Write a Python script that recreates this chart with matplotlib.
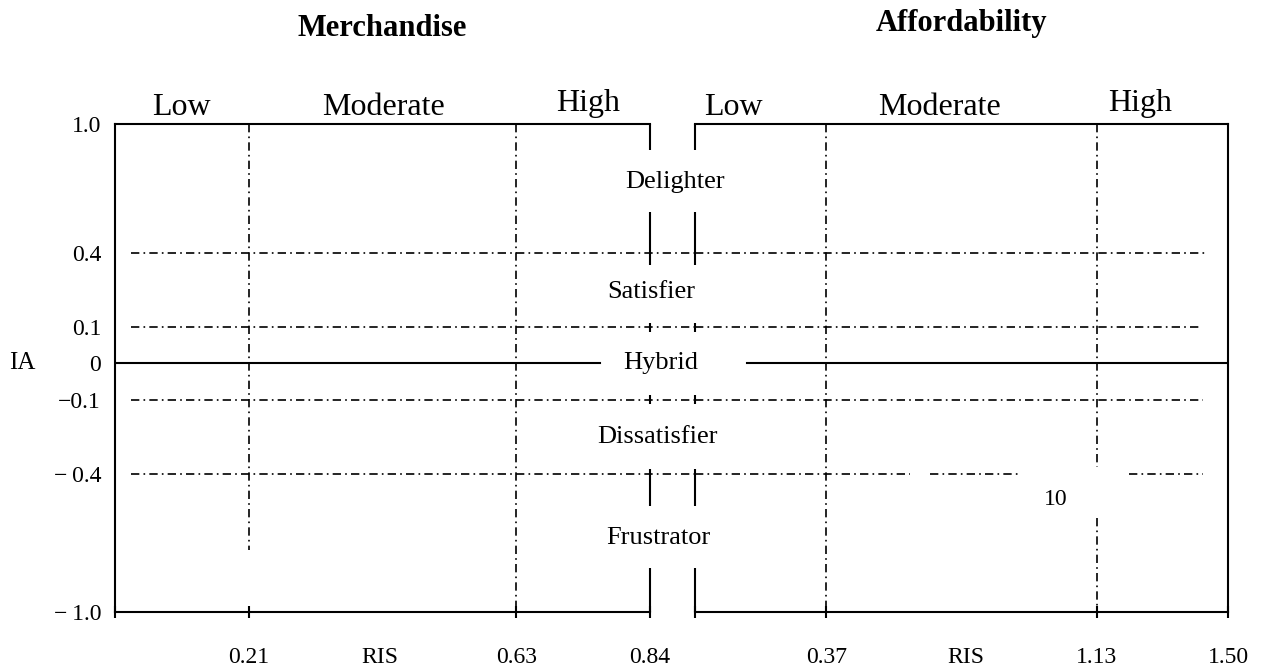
import numpy as np
import matplotlib
matplotlib.use("Agg")
import matplotlib.pyplot as plt
from matplotlib.transforms import blended_transform_factory as blend

plt.rcParams["font.family"] = ["Liberation Serif", "DejaVu Serif"]

# IA thresholds and where each one sits on the (schematic, non-linear) axis
IA_LEVELS = [-1.0, -0.4, -0.1, 0.0, 0.1, 0.4, 1.0]
IA_LABELS = ["\u2212\u20091.0", "\u2212\u20090.4", "\u22120.1", "0", "0.1", "0.4", "1.0"]
IA_ROW = [0.0, 0.283, 0.434, 0.510, 0.584, 0.736, 1.0]

ZONES = ["Delighter", "Satisfier", "Hybrid", "Dissatisfier", "Frustrator"]
ZONE_IA = [0.73, 0.24, 0.0, -0.25, -0.68]
ZONE_X = [0.534, 0.515, 0.523, 0.520, 0.521]  # figure fraction

LEVELS = ["Low", "Moderate", "High"]

# Merchandise panel (RIS)
MERCH_MAX = 0.84
MERCH_CUTS = [0.21, 0.63]
MERCH_TICKS = [0.0, 0.21, 0.63, 0.84]
MERCH_TICKLABELS = ["", "0.21", "0.63", "0.84"]
MERCH_LEVEL_X = [0.105, 0.421, 0.743]
MERCH_RIS_X = 0.416

# Affordability panel (RIS)
AFFORD_MAX = 1.50
AFFORD_CUTS = [0.37, 1.13]
AFFORD_TICKS = [0.0, 0.37, 1.13, 1.50]
AFFORD_TICKLABELS = ["", "0.37", "1.13", "1.50"]
AFFORD_LEVEL_X = [0.107, 0.687, 1.252]
AFFORD_RIS_X = 0.763

# broken divider between the panels (IA spans) and the gap in the zero line
DIVIDER_SEGS = [(1.0, 0.88), (0.59, 0.35), (-0.38, -0.54), (-0.81, -1.0)]
DIVIDER_NICKS = [(0.115, 0.085), (-0.085, -0.115)]
ZERO_LEFT = (0.0, 0.761)
ZERO_RIGHT = (0.146, 1.50)

DASHDOT = (0, (5, 2.5, 1, 2.5))
LW = 1.5
TICK_FS = 17


def fwd(v):
    return np.interp(v, IA_LEVELS, IA_ROW)


def inv(p):
    return np.interp(p, IA_ROW, IA_LEVELS)


fig = plt.figure(figsize=(12.64, 6.68), dpi=100)
ax_m = fig.add_axes([115 / 1264, 56 / 668, 535 / 1264, 488 / 668])
ax_a = fig.add_axes([695 / 1264, 56 / 668, 533 / 1264, 488 / 668])

for ax, xmax in ((ax_m, MERCH_MAX), (ax_a, AFFORD_MAX)):
    ax.set_yscale("function", functions=(fwd, inv))
    ax.set_ylim(-1.0, 1.0)
    ax.set_xlim(0, xmax)
    for s in ax.spines.values():
        s.set_linewidth(LW)
    ax.tick_params(axis="x", which="major", direction="inout", length=8,
                   width=LW, pad=21, labelsize=TICK_FS)
    ax.tick_params(axis="x", which="minor", length=0, pad=25, labelsize=TICK_FS)
    ax.yaxis.set_minor_locator(matplotlib.ticker.NullLocator())

ax_m.spines["right"].set_visible(False)
ax_a.spines["left"].set_visible(False)

# y axis labels only on the left
ax_m.set_yticks(IA_LEVELS, IA_LABELS)
ax_m.tick_params(axis="y", length=0, pad=10, labelsize=TICK_FS)
ax_a.set_yticks([])

ax_m.set_xticks(MERCH_TICKS, MERCH_TICKLABELS)
ax_m.set_xticks([MERCH_RIS_X], ["RIS"], minor=True)
ax_a.set_xticks(AFFORD_TICKS, AFFORD_TICKLABELS)
ax_a.set_xticks([AFFORD_RIS_X], ["RIS"], minor=True)

# broken divider at the inner edges
for ax, x in ((ax_m, MERCH_MAX), (ax_a, 0.0)):
    for y0, y1 in DIVIDER_SEGS + DIVIDER_NICKS:
        ax.plot([x, x], [y0, y1], color="black", lw=LW, clip_on=False,
                solid_capstyle="butt")

# zero line with a gap for "Hybrid"
ax_m.plot(ZERO_LEFT, [0, 0], color="black", lw=LW)
ax_a.plot(ZERO_RIGHT, [0, 0], color="black", lw=LW)

# horizontal IA thresholds across both panels
x_join = ax_m.transData.inverted().transform(
    ax_a.transAxes.transform((0, 0.5)))[0]
H_LEVELS = [0.4, 0.1, -0.1, -0.4]
H_RIGHT_END = [1.435, 1.42, 1.43, 1.43]
for y, xe in zip(H_LEVELS, H_RIGHT_END):
    ax_m.plot([0.025, x_join], [y, y], color="black", lw=1.2, ls=DASHDOT,
              clip_on=False)
    if y == -0.4:
        segs = [(0.0, 0.605), (0.66, 0.915), (1.22, xe)]
    else:
        segs = [(0.0, xe)]
    for x0, x1 in segs:
        ax_a.plot([x0, x1], [y, y], color="black", lw=1.2, ls=DASHDOT)

# vertical RIS thresholds
ax_m.plot([MERCH_CUTS[0]] * 2, [1.0, -0.73], color="black", lw=1.2, ls=DASHDOT)
ax_m.plot([MERCH_CUTS[1]] * 2, [1.0, -1.0], color="black", lw=1.2, ls=DASHDOT)
ax_a.plot([AFFORD_CUTS[0]] * 2, [1.0, -1.0], color="black", lw=1.2, ls=DASHDOT)
for y0, y1 in [(1.0, -0.37), (-0.59, -1.0)]:
    ax_a.plot([AFFORD_CUTS[1]] * 2, [y0, y1], color="black", lw=1.2, ls=DASHDOT)
ax_a.text(1.016, -0.51, "10", ha="center", va="center", fontsize=TICK_FS)

# level headers and panel titles
for ax, xs, title, ty in ((ax_m, MERCH_LEVEL_X, "Merchandise", 1.195),
                          (ax_a, AFFORD_LEVEL_X, "Affordability", 1.205)):
    tr = blend(ax.transData, ax.transAxes)
    for lab, x in zip(LEVELS, xs):
        y = 1.041 if lab == "High" else 1.033
        ax.text(x, y, lab, transform=tr, ha="center", va="center", fontsize=23)
    ax.text(0.5, ty, title, transform=ax.transAxes, ha="center", va="center",
            fontsize=22, fontweight="bold")

# zone names down the middle
tr = blend(fig.transFigure, ax_m.transData)
for name, y, x in zip(ZONES, ZONE_IA, ZONE_X):
    fig.text(x, y, name, transform=tr, ha="center", va="center", fontsize=19)

fig.text(22 / 1264, 0.0, "IA", transform=tr, ha="center", va="center",
         fontsize=18)

fig.savefig("out.png", dpi=100)
